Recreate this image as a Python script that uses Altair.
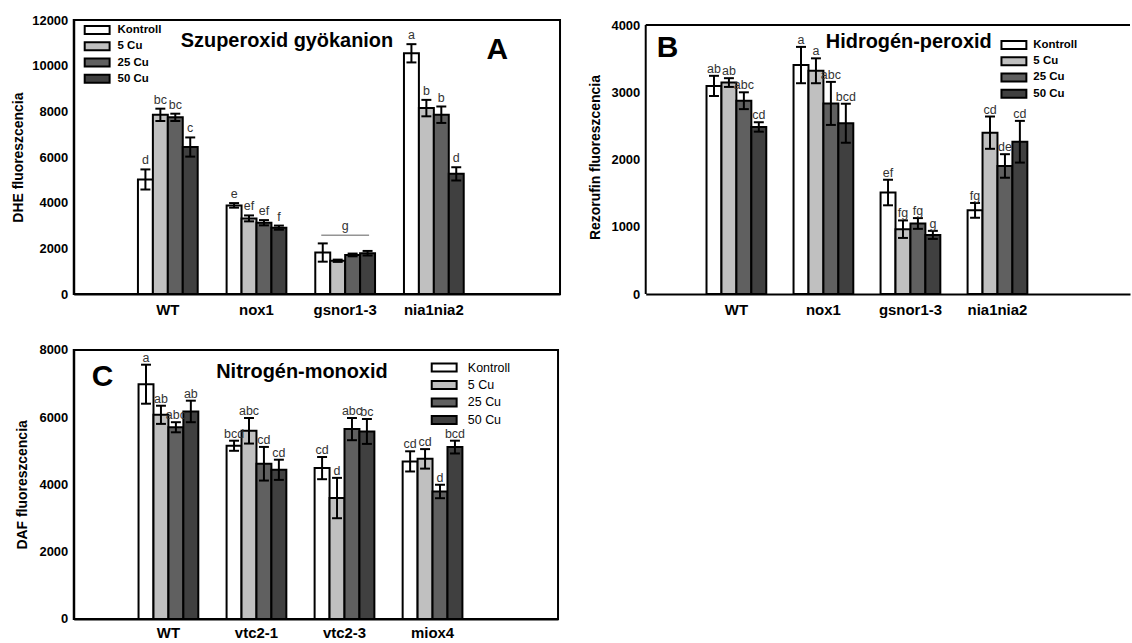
import altair as alt
import pandas as pd

FONT = "Liberation Sans"
SERIES = ["Kontroll", "5 Cu", "25 Cu", "50 Cu"]
COLORS = ["#ffffff", "#c0c0c0", "#606060", "#404040"]

# ---- Panel A: Szuperoxid gyökanion ----
A_GROUPS = ["WT", "nox1", "gsnor1-3", "nia1nia2"]
A_MEAN = [[5020, 7850, 7740, 6440],
          [3885, 3315, 3125, 2910],
          [1820, 1460, 1715, 1790],
          [10545, 8145, 7855, 5265]]
A_ERR = [[440, 270, 160, 420],
         [100, 130, 115, 90],
         [400, 50, 60, 100],
         [400, 360, 360, 290]]
A_LETTERS = [["d", "bc", "bc", "c"],
             ["e", "ef", "ef", "f"],
             ["", "", "", ""],
             ["a", "b", "b", "d"]]
A_GROUP_NOTE = ["gsnor1-3"]
A_GROUP_NOTE_Y = [2574]
A_GROUP_NOTE_TXT = ["g"]

# ---- Panel B: Hidrogén-peroxid ----
B_GROUPS = ["WT", "nox1", "gsnor1-3", "nia1nia2"]
B_MEAN = [[3095, 3145, 2875, 2485],
          [3405, 3320, 2835, 2540],
          [1510, 965, 1050, 880],
          [1245, 2400, 1905, 2265]]
B_ERR = [[150, 65, 125, 70],
         [270, 185, 320, 290],
         [190, 130, 80, 60],
         [110, 240, 175, 310]]
B_LETTERS = [["ab", "ab", "abc", "cd"],
             ["a", "a", "abc", "bcd"],
             ["ef", "fg", "fg", "g"],
             ["fg", "cd", "de", "cd"]]

# ---- Panel C: Nitrogén-monoxid ----
C_GROUPS = ["WT", "vtc2-1", "vtc2-3", "miox4"]
C_MEAN = [[6980, 6070, 5700, 6170],
          [5150, 5595, 4615, 4435],
          [4485, 3595, 5645, 5575],
          [4685, 4760, 3790, 5110]]
C_ERR = [[580, 270, 150, 320],
         [150, 380, 500, 300],
         [330, 600, 330, 370],
         [300, 290, 200, 190]]
C_LETTERS = [["a", "ab", "abc", "ab"],
             ["bcd", "abc", "cd", "cd"],
             ["cd", "d", "abc", "bc"],
             ["cd", "cd", "d", "bcd"]]

SWATCH = "M-2.5,-0.8H2.5V0.8H-2.5Z"


def make_df(groups, means, errs, letters):
    rows = []
    for gi, g in enumerate(groups):
        for si, s in enumerate(SERIES):
            m = means[gi][si]
            e = errs[gi][si]
            rows.append({"group": g, "series": s, "mean": m,
                         "lo": m - e, "hi": m + e, "letter": letters[gi][si]})
    return pd.DataFrame(rows)


def panel(df, groups, ytop, ydom, ystep, ytitle, xscale, letter_dy,
          title, title_xy, tag, tag_xy, leg, spacer_xy, title_pad,
          show_domain=True, xlabel_pad=8):
    xdef = alt.X("group:N", sort=groups, scale=xscale,
                 axis=alt.Axis(title=None, labelFontSize=15, labelFontWeight="bold",
                               labelFont=FONT, labelColor="black", labelAngle=0,
                               ticks=False, labelPadding=xlabel_pad,
                               domainColor="black", domainWidth=2))
    xo = alt.XOffset("series:N", sort=SERIES,
                     scale=alt.Scale(paddingInner=0, paddingOuter=0))
    yaxis = alt.Axis(title=ytitle, values=list(range(0, ytop + 1, ystep)),
                     format="d", grid=False, ticks=False, labelPadding=6,
                     labelFont=FONT, labelFontSize=13, labelFontWeight="bold",
                     labelColor="black", titleFont=FONT, titleFontSize=14,
                     titleFontWeight="bold", titleColor="black",
                     titlePadding=title_pad, domain=show_domain,
                     domainColor="black", domainWidth=2)
    yscale = alt.Scale(domain=[0, ydom], nice=False)

    def ydef(f):
        return alt.Y(f + ":Q", scale=yscale, axis=yaxis)

    base = alt.Chart(df)
    bars = base.mark_bar(stroke="black", strokeWidth=2).encode(
        x=xdef, xOffset=xo, y=ydef("mean"),
        color=alt.Color("series:N", sort=SERIES,
                        scale=alt.Scale(domain=SERIES, range=COLORS),
                        legend=alt.Legend(title=None, orient="none",
                                          legendX=leg["x"], legendY=leg["y"],
                                          symbolType=SWATCH, symbolSize=100,
                                          symbolStrokeColor="black",
                                          symbolStrokeWidth=2,
                                          symbolOpacity=1,
                                          labelFont=FONT,
                                          labelFontSize=leg["fs"],
                                          labelFontWeight=leg["fw"],
                                          labelColor="black",
                                          labelOffset=leg["lo"],
                                          rowPadding=leg["rp"],
                                          padding=0)))
    rules = base.mark_rule(color="black", strokeWidth=2).encode(
        x=xdef, xOffset=xo, y=ydef("lo"), y2="hi:Q")
    cap_hi = base.mark_tick(color="black", thickness=2, size=10, opacity=1).encode(
        x=xdef, xOffset=xo, y=ydef("hi"))
    cap_lo = base.mark_tick(color="black", thickness=2, size=10, opacity=1).encode(
        x=xdef, xOffset=xo, y=ydef("lo"))
    letters = base.mark_text(font=FONT, fontSize=12.5, color="#333333",
                             baseline="alphabetic", dy=letter_dy).encode(
        x=xdef, xOffset=xo, y=ydef("hi"), text="letter:N")

    tdf = pd.DataFrame({"t": [title]})
    ttl = alt.Chart(tdf).mark_text(font=FONT, fontSize=20, fontWeight="bold",
                                   color="black", baseline="middle").encode(
        x=alt.value(title_xy[0]), y=alt.value(title_xy[1]), text="t:N")
    gdf = pd.DataFrame({"t": [tag]})
    tg = alt.Chart(gdf).mark_text(font=FONT, fontSize=30, fontWeight="bold",
                                  color="black", baseline="middle").encode(
        x=alt.value(tag_xy[0]), y=alt.value(tag_xy[1]), text="t:N")
    sdf = pd.DataFrame({"t": ["."]})
    spacer = alt.Chart(sdf).mark_text(fontSize=2, opacity=0, align="left",
                                      baseline="top").encode(
        x=alt.value(spacer_xy[0]), y=alt.value(spacer_xy[1]), text="t:N")

    layers = [bars, rules, cap_hi, cap_lo, letters, ttl, tg, spacer]
    return layers, xdef, ydef


# ---- build A ----
dfA = make_df(A_GROUPS, A_MEAN, A_ERR, A_LETTERS)
layersA, xA, yA = panel(
    dfA, A_GROUPS, 12000, 12000, 2000, "DHE fluoreszcencia",
    alt.Scale(paddingInner=0.326, paddingOuter=0.905, align=0.40), -5,
    "Szuperoxid gyökanion", (214, 21), "A", (425, 30),
    {"x": 17.5, "y": 4, "fs": 11.5, "fw": "bold", "lo": 14.5, "rp": 0.3},
    (-68, -13), 6)
noteA = pd.DataFrame({"group": A_GROUP_NOTE, "v": A_GROUP_NOTE_Y,
                      "t": A_GROUP_NOTE_TXT})
lineA = alt.Chart(noteA).mark_tick(color="#666666", thickness=1.5, size=48).encode(
    x=xA, y=yA("v"))
txtA = alt.Chart(noteA).mark_text(font=FONT, fontSize=12.5, color="#333333",
                                  baseline="alphabetic", dy=-5).encode(
    x=xA, y=yA("v"), text="t:N")
chartA = alt.layer(*layersA, lineA, txtA).properties(
    width=488, height=275,
    view=alt.ViewBackground(stroke="black", strokeWidth=2))

# ---- build B ----
B_TOP = 4000
B_DOM = 4074
dfB = make_df(B_GROUPS, B_MEAN, B_ERR, B_LETTERS)
layersB, xB, yB = panel(
    dfB, B_GROUPS, B_TOP, B_DOM, 1000, "Rezorufin fluoreszcencia",
    alt.Scale(paddingInner=0.313, paddingOuter=0.939, align=0.372), -3,
    "Hidrogén-peroxid", (264, 22), "B", (22, 28),
    {"x": 363.5, "y": 19, "fs": 11.5, "fw": "bold", "lo": 13.5, "rp": 0.3},
    (-61, -13), 8, show_domain=False)
frameB = pd.DataFrame({"v0": [0], "v1": [B_TOP]})
leftB = alt.Chart(frameB).mark_rule(color="black", strokeWidth=2).encode(
    x=alt.value(0), y=yB("v0"), y2="v1:Q")
topB = alt.Chart(frameB).mark_rule(color="black", strokeWidth=2).encode(
    x=alt.value(0), x2=alt.value(486), y=yB("v1"))
chartB = alt.layer(*layersB, leftB, topB).properties(
    width=486, height=275,
    view=alt.ViewBackground(stroke="transparent"))

# ---- build C ----
dfC = make_df(C_GROUPS, C_MEAN, C_ERR, C_LETTERS)
layersC, xC, yC = panel(
    dfC, C_GROUPS, 8000, 8000, 2000, "DAF fluoreszcencia",
    alt.Scale(paddingInner=0.321, paddingOuter=0.911, align=0.404), -3,
    "Nitrogén-monoxid", (229, 22), "C", (29, 27),
    {"x": 365.5, "y": 11.5, "fs": 12.5, "fw": "normal", "lo": 17.5, "rp": 0.5},
    (-68, -13), 9, xlabel_pad=7)
chartC = alt.layer(*layersC).properties(
    width=486, height=270,
    view=alt.ViewBackground(stroke="black", strokeWidth=2))

top_row = alt.hconcat(chartA, chartB, spacing=23).resolve_scale(
    color="independent", x="independent", y="independent").resolve_legend(
    color="independent")

chart = alt.vconcat(top_row, chartC, spacing=18).resolve_scale(
    color="independent", x="independent", y="independent").resolve_legend(
    color="independent").properties(
    padding={"left": 5, "top": 5, "right": 0, "bottom": 0},
    background="white")

chart.save("out.html", embed_options={"renderer": "svg", "actions": False})
